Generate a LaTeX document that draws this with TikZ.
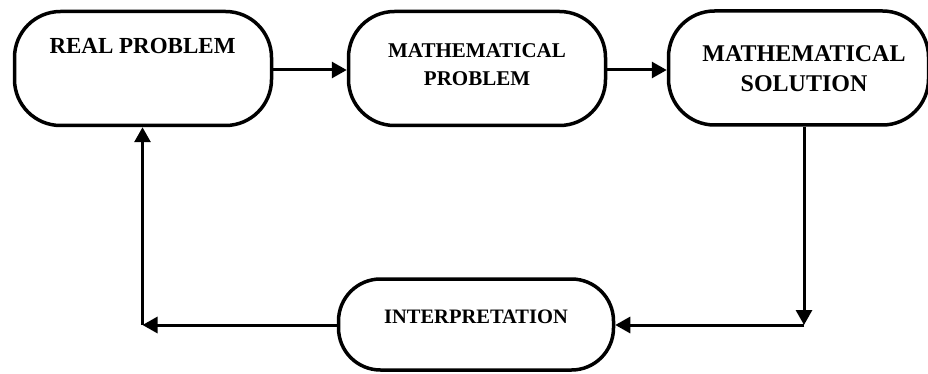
\documentclass[tikz,border=0pt]{standalone}
\usepackage{fontspec}
\setmainfont{Liberation Serif}
\usetikzlibrary{arrows.meta}
\begin{document}
\begin{tikzpicture}[x=1pt,y=1pt,
  pbox/.style={draw=black,line width=3.5pt,rounded corners=46pt,fill=white,inner sep=0pt},
  lbl/.style={anchor=base,inner sep=0pt,font=\bfseries},
  conn/.style={line width=3pt,-{Triangle[length=15pt,width=16pt]}}]
\useasboundingbox (0,0) rectangle (928,-374);
% boxes
\node[pbox,minimum width=257pt,minimum height=114pt] (b1) at (143,-68.5) {};
\node[pbox,minimum width=257pt,minimum height=114pt] (b2) at (477,-68.5) {};
\node[pbox,minimum width=260pt,minimum height=114pt] (b3) at (798.5,-68) {};
\node[pbox,rounded corners=42pt,minimum width=275pt,minimum height=91pt] (b4) at (476,-324.5) {};
% texts
\node[lbl,font=\fontsize{23}{27}\selectfont\bfseries] (t1) at (142.5,-54) {REAL PROBLEM};
\node[lbl,font=\fontsize{21}{25}\selectfont\bfseries] (t2a) at (477,-57.3) {MATHEMATICAL};
\node[lbl,font=\fontsize{21}{25}\selectfont\bfseries] (t2b) at (477,-86) {PROBLEM};
\node[lbl,font=\fontsize{24}{28}\selectfont\bfseries] (t3a) at (804,-61.7) {MATHEMATICAL};
\node[lbl,font=\fontsize{24}{28}\selectfont\bfseries] (t3b) at (804,-91.7) {SOLUTION};
\node[lbl,font=\fontsize{20.5}{24}\selectfont\bfseries] (t4) at (476,-323) {INTERPRETATION};
% corner points
\coordinate (c1) at (804,-325);
\coordinate (c2) at (142.5,-325);
% connectors
\draw[conn] (b1.east |- 0,-70) -- (b2.west |- 0,-70);
\draw[conn] (b2.east |- 0,-70) -- (b3.west |- 0,-70);
\draw[conn] (c1 |- b3.south) -- (c1);
\draw[conn] (c1) -- (b4.east |- c1);
\draw[conn] (b4.west |- c2) -- (c2);
\draw[conn] (c2) -- (c2 |- b1.south);
\end{tikzpicture}
\end{document}
